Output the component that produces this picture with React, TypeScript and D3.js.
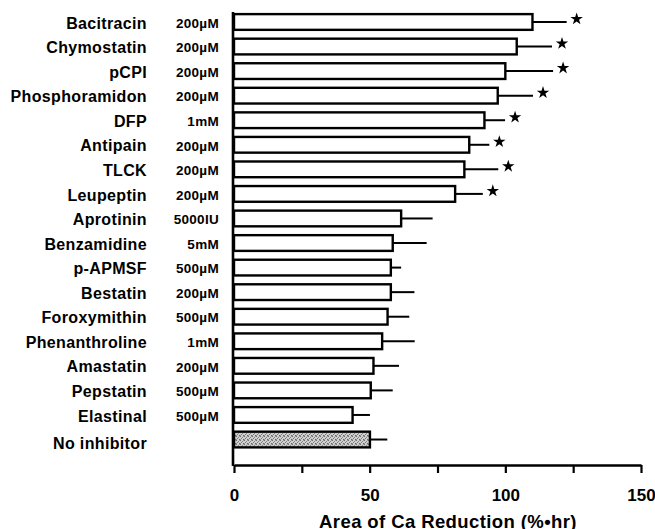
import React, { useEffect, useRef } from 'react';
import * as d3 from 'd3';

const inhibitors = [
  'Bacitracin', 'Chymostatin', 'pCPI', 'Phosphoramidon', 'DFP', 'Antipain', 'TLCK', 'Leupeptin',
  'Aprotinin', 'Benzamidine', 'p-APMSF', 'Bestatin', 'Foroxymithin', 'Phenanthroline',
  'Amastatin', 'Pepstatin', 'Elastinal', 'No inhibitor',
];
const concentrations = [
  '200µM', '200µM', '200µM', '200µM', '1mM', '200µM', '200µM', '200µM',
  '5000IU', '5mM', '500µM', '200µM', '500µM', '1mM',
  '200µM', '500µM', '500µM', '',
];
const means = [110, 104.2, 100, 97.2, 92.3, 86.7, 84.9, 81.5, 61.6, 58.5, 57.8, 57.8, 56.6, 54.6, 51.4, 50.4, 43.7, 50.1];
const errors = [12.6, 13, 17.6, 13, 7.6, 7.4, 12.5, 10.2, 11.6, 12.5, 3.8, 8.7, 8, 12, 9.4, 8.1, 6.4, 6.4];
const significant = [true, true, true, true, true, true, true, true, false, false, false, false, false, false, false, false, false, false];
const xTicks = [0, 25, 50, 75, 100, 125, 150];
const xLabelTicks = [0, 50, 100, 150];

const W = 655;
const H = 529;
const FONT = '"Liberation Sans", Arial, Helvetica, sans-serif';

const Chart: React.FC = () => {
  const ref = useRef<SVGSVGElement | null>(null);

  useEffect(() => {
    if (!ref.current) return;
    const svg = d3.select(ref.current);
    svg.selectAll('*').remove();

    const x = d3.scaleLinear().domain([0, 150]).range([234, 641]);
    const y = d3.scaleBand<string>().domain(inhibitors).range([9.7, 451.8]).paddingInner(0.36).paddingOuter(0.18);
    const axisY = 465;

    // stippled fill for the control bar
    const defs = svg.append('defs');
    const pat = defs.append('pattern')
      .attr('id', 'stipple').attr('width', 4).attr('height', 4)
      .attr('patternUnits', 'userSpaceOnUse');
    pat.append('rect').attr('width', 4).attr('height', 4).attr('fill', '#d0d0d0');
    [[0, 0, '#707070'], [2, 1, '#858585'], [3, 0, '#a0a0a0'], [1, 2, '#7a7a7a'], [3, 3, '#6a6a6a'], [0, 3, '#9a9a9a']]
      .forEach(([px, py, c]) => {
        pat.append('rect').attr('x', px).attr('y', py).attr('width', 1).attr('height', 1).attr('fill', c as string);
      });

    const rows = inhibitors.map((name, i) => ({
      name,
      conc: concentrations[i],
      mean: means[i],
      err: errors[i],
      sig: significant[i],
    }));
    const cy = (d: { name: string }) => (y(d.name) as number) + y.bandwidth() / 2;

    // error bars
    svg.append('g').selectAll('line')
      .data(rows)
      .enter()
      .append('line')
      .attr('x1', (d) => x(d.mean))
      .attr('x2', (d) => x(d.mean + d.err))
      .attr('y1', cy)
      .attr('y2', cy)
      .attr('stroke', '#000')
      .attr('stroke-width', 2);

    // bars
    svg.append('g').selectAll('rect')
      .data(rows)
      .enter()
      .append('rect')
      .attr('x', x(0))
      .attr('y', (d) => y(d.name) as number)
      .attr('width', (d) => x(d.mean) - x(0))
      .attr('height', y.bandwidth())
      .attr('fill', (d) => (d.name === 'No inhibitor' ? 'url(#stipple)' : '#fff'))
      .attr('stroke', '#000')
      .attr('stroke-width', 2.4);

    // significance stars
    const star = d3.symbol().type(d3.symbolStar).size(48);
    svg.append('g').selectAll('path')
      .data(rows.filter((d) => d.sig))
      .enter()
      .append('path')
      .attr('d', star as any)
      .attr('fill', '#000')
      .attr('transform', (d) => `translate(${x(d.mean + d.err) + 10},${cy(d) - 3})`);

    // category labels
    svg.append('g').selectAll('text')
      .data(rows)
      .enter()
      .append('text')
      .attr('x', 147)
      .attr('y', (d) => cy(d) + (d.name === 'No inhibitor' ? 4 : 1))
      .attr('dy', '0.35em')
      .attr('text-anchor', 'end')
      .attr('font-family', FONT)
      .attr('font-weight', 'bold')
      .attr('font-size', 16)
      .attr('letter-spacing', 0.35)
      .text((d) => d.name);

    svg.append('g').selectAll('text')
      .data(rows)
      .enter()
      .append('text')
      .attr('x', 219)
      .attr('y', (d) => cy(d) + 1)
      .attr('dy', '0.35em')
      .attr('text-anchor', 'end')
      .attr('font-family', FONT)
      .attr('font-weight', 'bold')
      .attr('font-size', 13.5)
      .attr('letter-spacing', 0.3)
      .text((d) => d.conc);

    // y axis line
    svg.append('line')
      .attr('x1', 233).attr('x2', 233)
      .attr('y1', 12).attr('y2', axisY + 1)
      .attr('stroke', '#000').attr('stroke-width', 2.6);

    // x axis
    const xAxis = d3.axisBottom(x)
      .tickValues(xTicks)
      .tickSize(8)
      .tickSizeOuter(0)
      .tickPadding(16)
      .tickFormat((d) => (xLabelTicks.includes(d as number) ? String(d) : ''));
    const gx = svg.append('g').attr('transform', `translate(0,${axisY})`).call(xAxis);
    gx.select('.domain').attr('stroke', '#000').attr('stroke-width', 2.4);
    gx.selectAll('.tick line').attr('stroke', '#000').attr('stroke-width', 2.2);
    gx.selectAll('.tick text')
      .attr('font-family', FONT)
      .attr('font-weight', 'bold')
      .attr('font-size', 17)
      .attr('fill', '#000');

    svg.append('text')
      .attr('x', 448)
      .attr('y', 528)
      .attr('text-anchor', 'middle')
      .attr('font-family', FONT)
      .attr('font-weight', 'bold')
      .attr('font-size', 18.5)
      .attr('letter-spacing', 0.4)
      .text('Area of Ca Reduction (%•hr)');
  }, []);

  return (
    <svg
      ref={ref}
      width={W}
      height={H}
      style={{ position: 'absolute', left: 0, top: 0, background: '#fff' }}
    />
  );
};

export default function App() {
  return <Chart />;
}
